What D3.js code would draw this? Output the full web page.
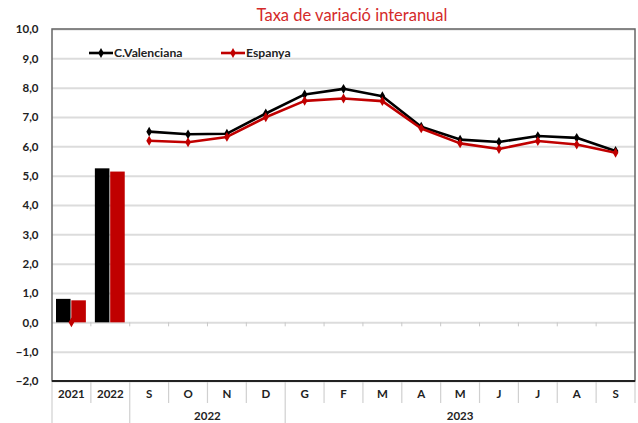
<!DOCTYPE html>
<html>
<head>
<meta charset="utf-8">
<script src="https://cdn.jsdelivr.net/npm/d3@7"></script>
<style>
  body { margin: 0; background: #fff; }
  text { font-family: Lato, "Open Sans", sans-serif; }
</style>
</head>
<body>
<div id="chart"></div>
<script>
// categories along the x axis (index keyed, labels repeat)
const categories = ["2021", "2022", "S", "O", "N", "D", "G", "F", "M", "A", "M", "J", "J", "A", "S"];
// year groups under the months: [label, first index, last index]
const groups = [["2022", 2, 5], ["2023", 6, 14]];

// annual bars
const barYears = [0, 1];
const cvBars = [0.80, 5.25];
const esBars = [0.75, 5.14];

// monthly lines (index into categories)
const lineIdx = [2, 3, 4, 5, 6, 7, 8, 9, 10, 11, 12, 13, 14];
const cvLine = [6.50, 6.41, 6.43, 7.12, 7.77, 7.96, 7.71, 6.67, 6.23, 6.15, 6.35, 6.29, 5.84];
const esLine = [6.19, 6.14, 6.32, 6.99, 7.55, 7.63, 7.54, 6.61, 6.10, 5.91, 6.18, 6.06, 5.78];
// stray Espanya point sitting on zero under the 2021 bar
const esStray = [[0, 0]];

const yTicks = [-2, -1, 0, 1, 2, 3, 4, 5, 6, 7, 8, 9, 10];

const seriesNames = ["C.Valenciana", "Espanya"];
const colors = { cv: "#000000", es: "#c00000" };

const W = 638, H = 423;
const margin = { top: 29, right: 3, bottom: 42, left: 52 };
const width = W - margin.left - margin.right;
const height = H - margin.top - margin.bottom;

const svg = d3.select("#chart").append("svg")
  .attr("width", W)
  .attr("height", H);

// title (upper one is cut off by the frame in the source)
svg.append("text")
  .attr("x", 352)
  .attr("y", 21)
  .attr("text-anchor", "middle")
  .attr("fill", "#d42a2a")
  .style("font-size", "16.5px")
  .text("Taxa de variació interanual");

const g = svg.append("g")
  .attr("transform", "translate(" + margin.left + "," + margin.top + ")");

const x = d3.scaleBand()
  .domain(d3.range(categories.length))
  .range([0, width]);

const y = d3.scaleLinear()
  .domain([-2, 10])
  .range([height, 0]);

const x1 = d3.scaleBand()
  .domain(["cv", "es"])
  .range([4, x.bandwidth() - 5])
  .paddingInner(0.05);

const fmt = d => d3.format(".1f")(d).replace(".", ",");

// gridlines
g.append("g")
  .attr("class", "grid")
  .call(d3.axisLeft(y).tickValues(yTicks).tickSize(-width).tickFormat(""))
  .call(s => s.select(".domain").remove())
  .call(s => s.selectAll("line").attr("stroke", "#dcdcdc").attr("stroke-width", 2));

// y labels
g.append("g")
  .call(d3.axisLeft(y).tickValues(yTicks).tickSize(0).tickPadding(13.5).tickFormat(fmt))
  .call(s => s.select(".domain").remove())
  .call(s => s.selectAll("text")
    .attr("fill", "#222")
    .style("font-size", "11.5px")
    .style("font-weight", "bold"));

// little tick marks on the zero line at category boundaries
g.append("g")
  .selectAll("line")
  .data(d3.range(1, categories.length))
  .join("line")
  .attr("x1", i => x(i))
  .attr("x2", i => x(i))
  .attr("y1", y(0))
  .attr("y2", y(0) + 4)
  .attr("stroke", "#c8c8c8");

// bars
const barData = barYears.map((c, i) => ({ c: c, cv: cvBars[i], es: esBars[i] }));
g.append("g")
  .selectAll("g")
  .data(barData)
  .join("g")
  .attr("transform", d => "translate(" + x(d.c) + ",0)")
  .selectAll("rect")
  .data(d => ["cv", "es"].map(k => ({ k: k, v: d[k] })))
  .join("rect")
  .attr("x", d => x1(d.k))
  .attr("width", x1.bandwidth())
  .attr("y", d => y(Math.max(0, d.v)))
  .attr("height", d => Math.abs(y(d.v) - y(0)))
  .attr("fill", d => colors[d.k]);

// lines
const cx = i => x(i) + x.bandwidth() / 2;
const line = d3.line().x(d => cx(d[0])).y(d => y(d[1]));
const diamond = d3.symbol().type(d3.symbolDiamond).size(28);

[["cv", cvLine], ["es", esLine]].forEach(([k, vals]) => {
  const pts = lineIdx.map((c, i) => [c, vals[i]]);
  g.append("path")
    .datum(pts)
    .attr("fill", "none")
    .attr("stroke", colors[k])
    .attr("stroke-width", 2.6)
    .attr("stroke-linejoin", "round")
    .attr("d", line);
  g.append("g")
    .selectAll("path")
    .data(k == "es" ? pts.concat(esStray) : pts)
    .join("path")
    .attr("transform", d => "translate(" + cx(d[0]) + "," + y(d[1]) + ")")
    .attr("d", diamond)
    .attr("fill", colors[k]);
});

// frame
g.append("rect")
  .attr("x", 0)
  .attr("y", 0)
  .attr("width", width)
  .attr("height", height)
  .attr("fill", "none")
  .attr("stroke", "#666")
  .attr("stroke-width", 1.5);
g.append("line")
  .attr("x1", 0).attr("x2", width)
  .attr("y1", height).attr("y2", height)
  .attr("stroke", "#222")
  .attr("stroke-width", 2);

// category labels
g.append("g")
  .attr("transform", "translate(0," + height + ")")
  .call(d3.axisBottom(x).tickSize(0).tickPadding(9).tickFormat(i => categories[i]))
  .call(s => s.select(".domain").remove())
  .call(s => s.selectAll("text")
    .attr("fill", "#222")
    .style("font-size", "11.5px")
    .style("font-weight", "bold"));

// separators under the axis
const groupStarts = [0].concat(groups.map(d => d[1]));
g.append("g")
  .selectAll("line")
  .data(d3.range(0, categories.length + 1))
  .join("line")
  .attr("x1", i => i < categories.length ? x(i) : width)
  .attr("x2", i => i < categories.length ? x(i) : width)
  .attr("y1", height + 1)
  .attr("y2", i => groupStarts.includes(i) ? H - margin.top : height + 22)
  .attr("stroke", "#d0d0d0")
  .attr("stroke-width", 1.2);

// year group labels
g.append("g")
  .selectAll("text")
  .data(groups)
  .join("text")
  .attr("x", d => (x(d[1]) + x(d[2]) + x.bandwidth()) / 2)
  .attr("y", height + 39)
  .attr("text-anchor", "middle")
  .attr("fill", "#222")
  .style("font-size", "11.5px")
  .style("font-weight", "bold")
  .text(d => d[0]);

// legend
const legend = g.append("g")
  .attr("transform", "translate(37,24)")
  .selectAll("g")
  .data([["cv", seriesNames[0]], ["es", seriesNames[1]]])
  .join("g")
  .attr("transform", (d, i) => "translate(" + (i * 132) + ",0)");
legend.append("line")
  .attr("x1", 0).attr("x2", 24)
  .attr("stroke", d => colors[d[0]])
  .attr("stroke-width", 2.6);
legend.append("path")
  .attr("transform", "translate(12,0)")
  .attr("d", diamond)
  .attr("fill", d => colors[d[0]]);
legend.append("text")
  .attr("x", 25)
  .attr("dy", "0.35em")
  .attr("fill", "#222")
  .style("font-size", "12.2px")
  .style("font-weight", "bold")
  .text(d => d[1]);
</script>
</body>
</html>
